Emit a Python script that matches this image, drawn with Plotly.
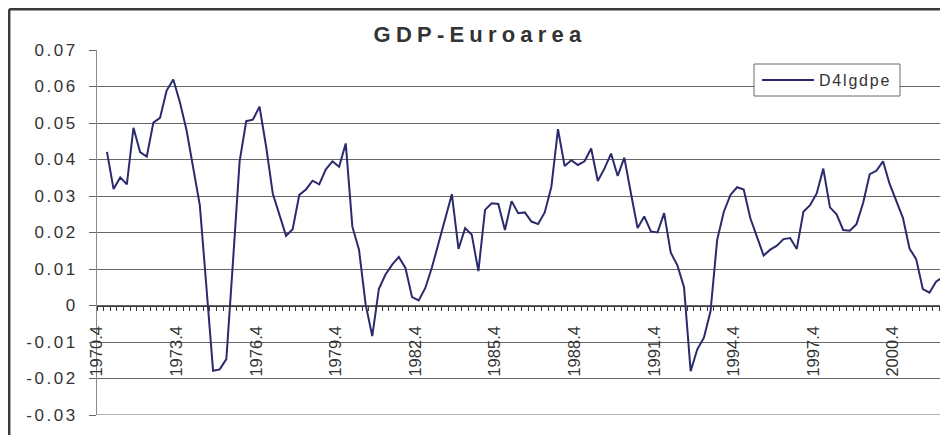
import plotly.graph_objects as go

# ---- data -------------------------------------------------------------
series_name = "D4lgdpe"
chart_title = "GDP-Euroarea"

# quarterly categories 1970.4 ... 2002.4
categories = [f"{1970 + (3 + k) // 4}.{(3 + k) % 4 + 1}" for k in range(129)]

d4lgdpe = [
    None,
    0.0421, 0.0319, 0.0351, 0.0332, 0.0487, 0.0420, 0.0408, 0.0501, 0.0514, 0.0589,
    0.0619, 0.0557, 0.0480, 0.0375, 0.0275, 0.0050, -0.0179, -0.0175, -0.0147, 0.0120,
    0.0395, 0.0505, 0.0509, 0.0545, 0.0435, 0.0307, 0.0248, 0.0191, 0.0209, 0.0303,
    0.0318, 0.0342, 0.0332, 0.0373, 0.0395, 0.0380, 0.0444, 0.0216, 0.0153, 0.0003,
    -0.0084, 0.0046, 0.0085, 0.0112, 0.0133, 0.0103, 0.0023, 0.0014, 0.0048, 0.0105,
    0.0171, 0.0237, 0.0305, 0.0155, 0.0212, 0.0194, 0.0094, 0.0262, 0.0280, 0.0278,
    0.0207, 0.0286, 0.0253, 0.0255, 0.0230, 0.0223, 0.0255, 0.0325, 0.0483, 0.0382,
    0.0398, 0.0385, 0.0395, 0.0430, 0.0341, 0.0375, 0.0416, 0.0355, 0.0405, 0.0307,
    0.0212, 0.0244, 0.0203, 0.0200, 0.0253, 0.0145, 0.0110, 0.0050, -0.0180, -0.0120,
    -0.0088, -0.0015, 0.0180, 0.0257, 0.0303, 0.0324, 0.0318, 0.0239, 0.0189, 0.0137,
    0.0153, 0.0164, 0.0182, 0.0185, 0.0155, 0.0257, 0.0275, 0.0307, 0.0375, 0.0269,
    0.0250, 0.0207, 0.0205, 0.0223, 0.0281, 0.0360, 0.0369, 0.0395, 0.0333, 0.0285,
    0.0240, 0.0156, 0.0127, 0.0045, 0.0035, 0.0065, 0.0078, 0.0132,
]

x_tick_labels = ["1970.4", "1973.4", "1976.4", "1979.4", "1982.4", "1985.4",
                 "1988.4", "1991.4", "1994.4", "1997.4", "2000.4"]
y_tick_values = [-0.03, -0.02, -0.01, 0, 0.01, 0.02, 0.03, 0.04, 0.05, 0.06, 0.07]
y_tick_labels = ["-0.03", "-0.02", "-0.01", "0", "0.01", "0.02", "0.03",
                 "0.04", "0.05", "0.06", "0.07"]

# ---- styling helpers ---------------------------------------------------
FONT = "Liberation Sans, Arial, sans-serif"
TXT = "#333333"
GRID = "#666666"


def spaced(s, px):
    return f'<span style="letter-spacing:{px}px">{s}</span>'


idx = list(range(len(categories)))
label_pos = [categories.index(lbl) - 0.5 for lbl in x_tick_labels]
boundaries = [k - 0.5 for k in range(len(categories) + 1)]

# the page body has an 8px default margin: lay out in page pixels minus OFF
OFF = 8
W, H = 948, 435
ML, MT = 97 - OFF, 50 - OFF          # plot area starts at page (97, 50)
pw, ph = 851, 365                    # plot area ends at page (948, 415)
MR = W - ML - pw
MB = H - MT - ph


def px_x(p):
    return (p - OFF - ML) / pw


def px_y(p):
    return (H - MB - (p - OFF)) / ph


fig = go.Figure()
fig.add_trace(go.Scatter(
    x=idx, y=d4lgdpe, mode="lines", name=spaced(series_name, 1.8),
    line=dict(color="#2a2a6c", width=2), connectgaps=False,
))

ymin, ymax = y_tick_values[0], y_tick_values[-1]
zero_frac = (0 - ymin) / (ymax - ymin)

fig.update_layout(
    width=W, height=H,
    margin=dict(l=ML, r=MR, t=MT, b=MB, pad=0),
    paper_bgcolor="white", plot_bgcolor="white",
    font=dict(family=FONT, color=TXT),
    title=dict(text=spaced(chart_title, 5.2), x=(480 - OFF) / W, xanchor="center",
               y=1 - (34.5 - OFF) / H, yanchor="middle", yref="container",
               font=dict(family=FONT, size=22, weight=700, color=TXT)),
    showlegend=True,
    legend=dict(x=px_x(757), y=px_y(80), xanchor="left", yanchor="middle",
                bgcolor="rgba(0,0,0,0)", borderwidth=0,
                font=dict(family=FONT, size=16, color=TXT),
                itemwidth=52, tracegroupgap=0),
    xaxis=dict(
        range=[-0.5, -0.5 + pw / 6.633],
        anchor="free", position=zero_frac,
        showline=True, linecolor="#3a3a3a", linewidth=1,
        showgrid=False, zeroline=False,
        tickmode="array", tickvals=label_pos, ticktext=x_tick_labels,
        ticks="outside", ticklen=4, tickcolor="#3a3a3a", tickwidth=1,
        tickangle=-90, ticklabelstandoff=9,
        tickfont=dict(family=FONT, size=16.5, color=TXT),
        minor=dict(tickmode="array", tickvals=boundaries, ticks="outside",
                   ticklen=4, tickcolor="#3a3a3a", tickwidth=1, showgrid=False),
    ),
    yaxis=dict(
        range=[ymin, ymax],
        showline=True, linecolor="#8a8a8a", linewidth=1,
        showgrid=True, gridcolor=GRID, gridwidth=1,
        zeroline=False,
        tickmode="array", tickvals=y_tick_values,
        ticktext=[spaced(t, 2.5) for t in y_tick_labels],
        ticks="outside", ticklen=7, tickcolor=GRID, tickwidth=1,
        ticklabelstandoff=8,
        tickfont=dict(family=FONT, size=17, color=TXT),
    ),
)

# bottom gridline at the lower edge of the value range (plotly skips the edge one)
fig.add_shape(type="line", xref="paper", yref="y", layer="below",
              x0=0, x1=1, y0=ymin, y1=ymin, line=dict(color=GRID, width=1))

# legend frame (white box covering the gridline behind the legend)
fig.add_shape(type="rect", xref="paper", yref="paper", layer="above",
              x0=px_x(754), x1=px_x(900), y0=px_y(96), y1=px_y(64),
              fillcolor="white", line=dict(color="#6a6a6a", width=1))

# outer chart frame (left and top edges visible in the crop)
fx = px_x(OFF + 1.2)
fy = px_y(OFF + 1.2)
fig.add_shape(type="line", xref="paper", yref="paper", x0=fx, x1=fx,
              y0=px_y(H + 20), y1=fy, line=dict(color="#3a3a3a", width=2.5))
fig.add_shape(type="line", xref="paper", yref="paper", x0=fx, x1=1.05,
              y0=fy, y1=fy, line=dict(color="#3a3a3a", width=2.5))

fig.write_html("out.html")
